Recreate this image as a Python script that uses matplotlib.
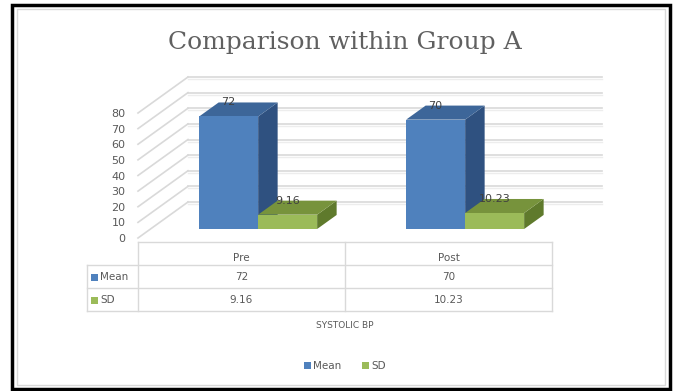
import matplotlib
matplotlib.use("Agg")
import matplotlib.pyplot as plt
from matplotlib.patches import Polygon, Rectangle
from matplotlib.lines import Line2D

categories = ["Pre", "Post"]
series = ["Mean", "SD"]
mean_values = [72, 70]
sd_values = [9.16, 10.23]
mean_labels = ["72", "70"]
sd_labels = ["9.16", "10.23"]
y_ticks = [0, 10, 20, 30, 40, 50, 60, 70, 80]
title = "Comparison within Group A"
axis_title = "SYSTOLIC BP"

front_colors = {"Mean": "#4F81BD", "SD": "#9BBB59"}
top_colors = {"Mean": "#3D6699", "SD": "#77933C"}
side_colors = {"Mean": "#2F5180", "SD": "#5F7A2C"}
text_gray = "#595959"
grid_gray = "#D9D9D9"

W, H = 677, 391
fig = plt.figure(figsize=(W / 100, H / 100), dpi=100)

# pixel layout of the plot floor (front edge) and y scale
x0_px, x1_px = 138, 552
y0_px, y80_px = 238, 113
depth_px = (50, 36)

# overlay axes in pixel coords for frame, table and legend
ov = fig.add_axes([0, 0, 1, 1])
ov.set_xlim(0, W)
ov.set_ylim(H, 0)
ov.axis("off")
ov.add_patch(Rectangle((17, 9), 648, 376, fill=False, ec="#D9D9D9", lw=1))
ov.add_patch(Rectangle((12, 5), 658, 384, fill=False, ec="black", lw=2.5))

ax = fig.add_axes([x0_px / W, 1 - y0_px / H, (x1_px - x0_px) / W, (y0_px - y80_px) / H])
ax.set_xlim(0, len(categories))
ax.set_ylim(0, 80)
for s in ax.spines.values():
    s.set_visible(False)
ax.set_xticks([])
ax.set_yticks(y_ticks)
ax.tick_params(axis="y", length=0, pad=9, labelsize=8, labelcolor=text_gray)
ax.patch.set_alpha(0)

px_x = (x1_px - x0_px) / len(categories)
px_y = (y0_px - y80_px) / 80
dx = depth_px[0] / px_x
dy = depth_px[1] / px_y

# walls: side wall and back wall gridlines
for v in y_ticks:
    ax.plot([0, dx], [v, v + dy], color=grid_gray, lw=1.2, clip_on=False, zorder=1)
    ax.plot([dx, len(categories) + dx], [v + dy, v + dy], color=grid_gray, lw=1.2,
            clip_on=False, zorder=1)
    ax.plot([dx, len(categories) + dx], [v + dy - 1.3, v + dy - 1.3], color="#EDEDED",
            lw=1.0, clip_on=False, zorder=1)

bar_w = 0.285
d_front, d_back = 0.25, 0.64


def draw_bar(left, value, key, label):
    fx, fy = d_front * dx, d_front * dy
    bx, by = d_back * dx, d_back * dy
    r = left + bar_w
    side = [(r + fx, fy), (r + bx, by), (r + bx, value + by), (r + fx, value + fy)]
    top = [(left + fx, value + fy), (r + fx, value + fy), (r + bx, value + by), (left + bx, value + by)]
    front = [(left + fx, fy), (r + fx, fy), (r + fx, value + fy), (left + fx, value + fy)]
    for pts, c in [(side, side_colors[key]), (top, top_colors[key]), (front, front_colors[key])]:
        ax.add_patch(Polygon(pts, closed=True, fc=c, ec="none", clip_on=False, zorder=3))
    ax.text(left + bar_w / 2 + fx, value + by, label, ha="center", va="center",
            fontsize=8, color="#404040", zorder=5, clip_on=False)


for i, cat in enumerate(categories):
    center = i + 0.52
    draw_bar(center - bar_w, mean_values[i], "Mean", mean_labels[i])
    draw_bar(center, sd_values[i], "SD", sd_labels[i])

# title
fig.text(345 / W, 1 - 42 / H, title, ha="center", va="center", fontsize=18,
         family="DejaVu Serif", color="#606060")

# data table
tf = dict(fontsize=7.5, color=text_gray, family="DejaVu Sans", ha="center", va="center")
rows_y = [242, 265, 288, 311]
col_x = [x0_px + i * px_x for i in range(len(categories) + 1)]
lk = dict(color=grid_gray, lw=1)
ov.add_line(Line2D([x0_px, x1_px], [rows_y[0], rows_y[0]], **lk))
for yy in rows_y[1:]:
    ov.add_line(Line2D([87, x1_px], [yy, yy], **lk))
ov.add_line(Line2D([87, 87], [rows_y[1], rows_y[3]], **lk))
for xx in col_x:
    ov.add_line(Line2D([xx, xx], [rows_y[0], rows_y[3]], **lk))

for i, cat in enumerate(categories):
    cx = col_x[i] + px_x / 2
    ov.text(cx, 258, cat, **tf)
    ov.text(cx, 277, f"{mean_values[i]}", **tf)
    ov.text(cx, 300, sd_labels[i], **tf)

for j, (name, yy) in enumerate(zip(series, [277, 300])):
    ov.add_patch(Rectangle((91, yy - 3.5), 7, 7, fc=front_colors[name], ec="none"))
    ov.text(100, yy, name, fontsize=7.5, color=text_gray, ha="left", va="center")

ov.text(345, 325, axis_title, fontsize=6.5, color=text_gray, ha="center", va="center")

# legend
lx = 304
for name in series:
    ov.add_patch(Rectangle((lx, 362), 7, 7, fc=front_colors[name], ec="none"))
    t = ov.text(lx + 9, 366, name, fontsize=7.5, color=text_gray, ha="left", va="center")
    lx += 58 if name == "Mean" else 0

fig.savefig("out.png", dpi=100)
